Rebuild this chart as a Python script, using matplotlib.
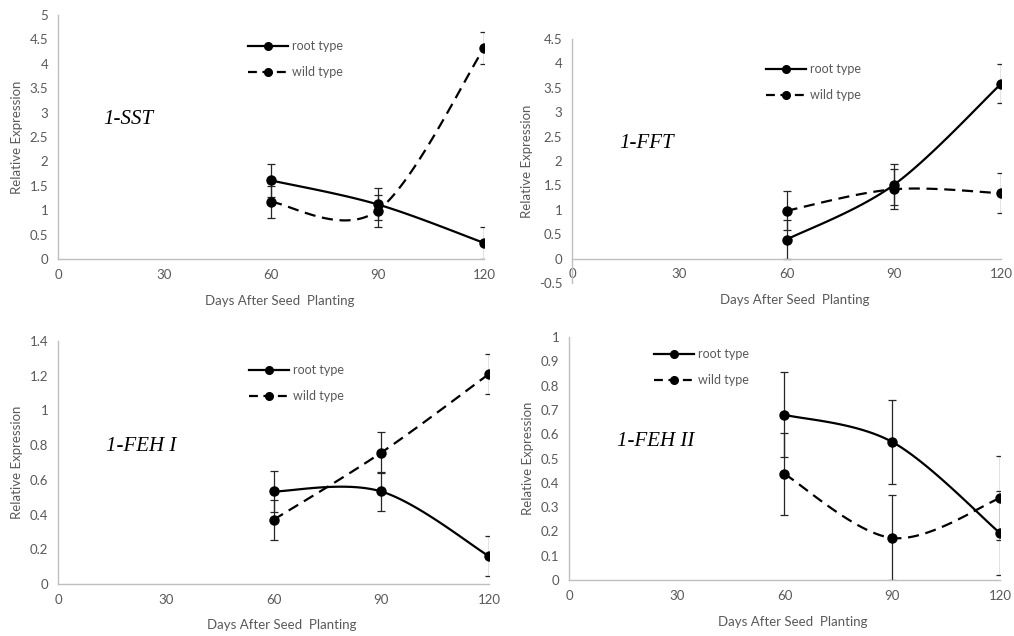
import matplotlib
matplotlib.use("Agg")
import matplotlib.pyplot as plt
import numpy as np

days = [60, 90, 120]
xticks = [0, 30, 60, 90, 120]

genes = ["1-SST", "1-FFT", "1-FEH I", "1-FEH II"]

root_vals = [[1.61, 1.12, 0.33], [0.39, 1.51, 3.58], [0.533, 0.533, 0.16], [0.68, 0.568, 0.193]]
root_err = [[0.33, 0.33, 0.32], [0.40, 0.42, 0.40], [0.12, 0.115, 0.115], [0.175, 0.172, 0.172]]
wild_vals = [[1.17, 0.99, 4.32], [0.98, 1.42, 1.34], [0.37, 0.757, 1.21], [0.436, 0.173, 0.337]]
wild_err = [[0.32, 0.33, 0.33], [0.40, 0.41, 0.41], [0.115, 0.118, 0.115], [0.17, 0.175, 0.172]]

ylims = [(0, 5), (-0.5, 4.5), (0, 1.4), (0, 1)]
ysteps = [0.5, 0.5, 0.2, 0.1]

# axes rectangles in pixels: left, top, right, bottom
rects = [(58, 15, 484, 259), (572, 39, 1001, 283), (58, 341, 489, 584), (569, 337, 1000, 580)]
# gene label positions in data coords
gene_pos = [(12.8, 2.85), (13.3, 2.36), (13.4, 0.795), (13.4, 0.568)]
# legend upper-left anchor in pixels
leg_pos = [(242, 34), (760, 57), (243, 358), (648, 342)]
# x label centre heights and y label centre x in pixels
xlab_y = [301, 300, 625, 622]
ylab_x = [16, 526, 16, 527]

W, H = 1014, 636
gray = "#595959"
axcol = "#bfbfbf"
plt.rcParams['font.family'] = ['Lato', 'DejaVu Sans']


def excel_smooth(xs, ys, n=40):
    # Bezier smoothing like Excel's smoothed line
    P = np.column_stack([xs, ys]).astype(float)
    out = []
    for i in range(len(P) - 1):
        p0 = P[i - 1] if i > 0 else P[i]
        p1 = P[i]
        p2 = P[i + 1]
        p3 = P[i + 2] if i + 2 < len(P) else P[i + 1]
        c1 = p1 + (p2 - p0) / 6
        c2 = p2 - (p3 - p1) / 6
        t = np.linspace(0, 1, n)[:, None]
        seg = (1 - t) ** 3 * p1 + 3 * (1 - t) ** 2 * t * c1 + 3 * (1 - t) * t ** 2 * c2 + t ** 3 * p2
        out.append(seg if i == 0 else seg[1:])
    out = np.vstack(out)
    return out[:, 0], out[:, 1]


fig = plt.figure(figsize=(W / 100, H / 100), dpi=100)

for k in range(4):
    l, t, r, b = rects[k]
    ax = fig.add_axes([l / W, 1 - b / H, (r - l) / W, (b - t) / H])
    ax.set_xlim(0, 120)
    ax.set_ylim(*ylims[k])
    ax.set_xticks(xticks)
    lo, hi = ylims[k]
    yt = np.round(np.arange(lo, hi + ysteps[k] / 2, ysteps[k]), 2)
    ax.set_yticks(yt)
    ax.set_yticklabels(["%g" % v for v in yt])

    for s in ["top", "right"]:
        ax.spines[s].set_visible(False)
    for s in ["left", "bottom"]:
        ax.spines[s].set_color(axcol)
        ax.spines[s].set_linewidth(1)
    ax.spines["bottom"].set_position(("data", 0))
    ax.tick_params(length=0, pad=7, labelsize=9.5, colors=gray)

    ax.errorbar(days, root_vals[k], yerr=root_err[k], fmt="none", ecolor="#262626",
                elinewidth=0.9, capsize=3, capthick=0.9, zorder=2)
    ax.errorbar(days, wild_vals[k], yerr=wild_err[k], fmt="none", ecolor="#262626",
                elinewidth=0.9, capsize=3, capthick=0.9, zorder=2)

    sx, sy = excel_smooth(days, root_vals[k])
    ax.plot(sx, sy, color="black", lw=1.6, zorder=3)
    sx, sy = excel_smooth(days, wild_vals[k])
    ax.plot(sx, sy, color="black", lw=1.6, dashes=(5, 3), zorder=3)
    ax.plot(days, root_vals[k], "o", color="black", ms=6.5, zorder=4)
    ax.plot(days, wild_vals[k], "o", color="black", ms=6.5, zorder=4)

    h1, = ax.plot([], [], "-o", color="black", lw=1.6, ms=5.5, label="root type")
    h2, = ax.plot([], [], "o", color="black", lw=1.6, ms=5.5, ls=(0, (4, 2.5)), label="wild type")
    lx, ly = leg_pos[k]
    leg = ax.legend(handles=[h1, h2], loc="upper left", bbox_to_anchor=(lx / W, 1 - ly / H),
                    bbox_transform=fig.transFigure, frameon=False, fontsize=9,
                    handlelength=3.2, handletextpad=0.3, labelspacing=1.1, borderpad=0)
    for txt in leg.get_texts():
        txt.set_color(gray)

    gx, gy = gene_pos[k]
    ax.text(gx, gy, genes[k], family="Liberation Serif", style="italic", fontsize=15,
            va="center", ha="left", color="black")

    ax.set_ylabel("Relative Expression", fontsize=9.5, color=gray)
    ax.yaxis.set_label_coords((ylab_x[k] + 7 - l) / (r - l), 0.5)
    ax.set_xlabel("Days After Seed  Planting", fontsize=9.5, color=gray)
    ax.xaxis.set_label_coords(0.52, (b - xlab_y[k] + 6) / (b - t))

fig.savefig("out.png", dpi=100)
